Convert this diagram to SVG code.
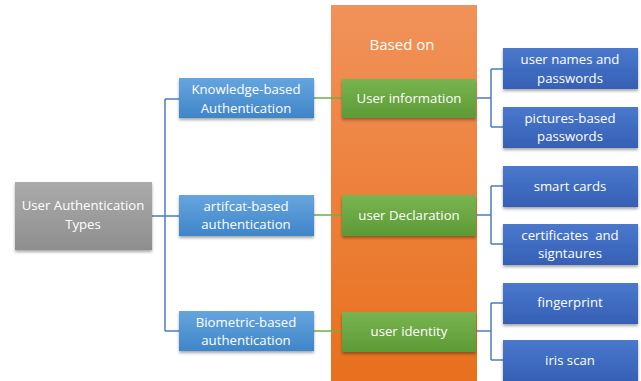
<svg xmlns="http://www.w3.org/2000/svg" width="641" height="381" viewBox="0 0 641 381">
<defs>
<linearGradient id="gOrange" x1="0" y1="0" x2="0" y2="1"><stop offset="0" stop-color="#F1925A"/><stop offset="1" stop-color="#E8701D"/></linearGradient>
<linearGradient id="gGray" x1="0" y1="0" x2="0" y2="1"><stop offset="0" stop-color="#ABABAB"/><stop offset="1" stop-color="#8E8E8E"/></linearGradient>
<linearGradient id="gLBlue" x1="0" y1="0" x2="0" y2="1"><stop offset="0" stop-color="#66A5DE"/><stop offset="1" stop-color="#3F85C9"/></linearGradient>
<linearGradient id="gDBlue" x1="0" y1="0" x2="0" y2="1"><stop offset="0" stop-color="#4A78CC"/><stop offset="1" stop-color="#3560B5"/></linearGradient>
<linearGradient id="gGreen" x1="0" y1="0" x2="0" y2="1"><stop offset="0" stop-color="#78B550"/><stop offset="1" stop-color="#5D9A36"/></linearGradient>
<filter id="sh" x="-10%" y="-20%" width="120%" height="150%"><feDropShadow dx="0" dy="2" stdDeviation="1.5" flood-color="#000" flood-opacity="0.35"/></filter>
</defs>
<style>
text{font-family:"Open Sans","Liberation Sans",Arial,sans-serif;font-size:13.2px;fill:#FFFFFF;text-anchor:middle;dominant-baseline:central}
.box{filter:url(#sh)}
.lb{stroke:#4A7EBB;stroke-width:1.5;fill:none}
.lg{stroke:#70AD47;stroke-width:1.5;fill:none}
</style>
<rect id="band" x="331" y="5" width="146" height="376" fill="url(#gOrange)"/>
<text x="402" y="44" style="font-size:15px">Based on</text>
<g id="connectors">
<path class="lb" d="M152 216H165M165 99V331M165 99H179M165 216H179M165 331H179"/>
<path class="lg" d="M314 98H342M314 215H342M314 331H342"/>
<path class="lb" d="M477 98H491M491 69V127M491 69H503M491 127H503"/>
<path class="lb" d="M477 215H491M491 186V244M491 186H503M491 244H503"/>
<path class="lb" d="M477 331H491M491 303V360M491 303H503M491 360H503"/>
</g>
<g id="root"><rect class="box" x="15" y="182" width="137" height="68" fill="url(#gGray)"/><text x="83" y="205">User Authentication</text><text x="83" y="223.5">Types</text></g>
<g id="knowledge"><rect class="box" x="179" y="78" width="135" height="40" fill="url(#gLBlue)"/><text x="246" y="89">Knowledge-based</text><text x="246" y="107.5">Authentication</text></g>
<g id="artifact"><rect class="box" x="179" y="195" width="135" height="41" fill="url(#gLBlue)"/><text x="246" y="205.5">artifcat-based</text><text x="246" y="224">authentication</text></g>
<g id="biometric"><rect class="box" x="179" y="311" width="135" height="40" fill="url(#gLBlue)"/><text x="246" y="321.5">Biometric-based</text><text x="246" y="340">authentication</text></g>
<g id="info"><rect class="box" x="342" y="79" width="134" height="39" fill="url(#gGreen)"/><text x="409" y="98">User information</text></g>
<g id="declaration"><rect class="box" x="342" y="195" width="134" height="41" fill="url(#gGreen)"/><text x="409" y="215">user Declaration</text></g>
<g id="identity"><rect class="box" x="342" y="312" width="134" height="40" fill="url(#gGreen)"/><text x="409" y="331">user identity</text></g>
<g id="usernames"><rect class="box" x="503" y="48" width="135" height="41" fill="url(#gDBlue)"/><text x="570" y="59">user names and</text><text x="570" y="77.5">passwords</text></g>
<g id="pictures"><rect class="box" x="503" y="107" width="135" height="41" fill="url(#gDBlue)"/><text x="570" y="117.5">pictures-based</text><text x="570" y="136">passwords</text></g>
<g id="smartcards"><rect class="box" x="503" y="166" width="135" height="41" fill="url(#gDBlue)"/><text x="570" y="186">smart cards</text></g>
<g id="certificates"><rect class="box" x="503" y="224" width="135" height="41" fill="url(#gDBlue)"/><text x="570" y="234.5" style="white-space:pre">certificates  and</text><text x="570" y="253">signtaures</text></g>
<g id="fingerprint"><rect class="box" x="503" y="283" width="135" height="41" fill="url(#gDBlue)"/><text x="570" y="302">fingerprint</text></g>
<g id="iris"><rect class="box" x="503" y="340" width="135" height="41" fill="url(#gDBlue)"/><text x="570" y="360">iris scan</text></g>
</svg>
